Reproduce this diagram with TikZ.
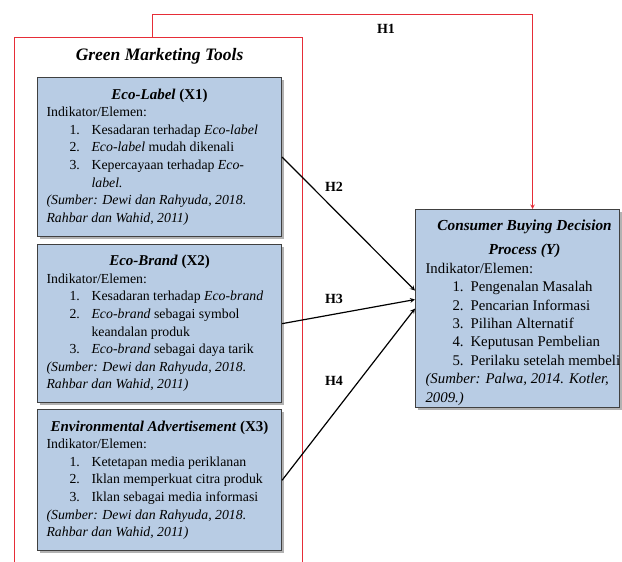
\documentclass[tikz,border=0pt]{standalone}
\usepackage{fontspec}
\setmainfont{Liberation Serif}
\usepackage{tikz}
\usetikzlibrary{positioning, shadows, calc}

\definecolor{boxblue}{RGB}{184,204,228}
\definecolor{boxframe}{RGB}{64,64,64}
\definecolor{linered}{RGB}{230,45,55}
\setlength{\parindent}{0pt}

% numbered line with hanging indent
\newcommand{\itm}[3][23pt]{\par\hangindent=45pt\hangafter=1\noindent
  \hspace*{#1}\makebox[\dimexpr45pt-#1\relax][l]{#2}#3}

\begin{document}
\begin{tikzpicture}
        [
            x=1pt, y=-1pt,
            var/.style={rectangle, draw=boxframe, line width=1.1pt, fill=boxblue,
                        drop shadow={shadow xshift=2pt, shadow yshift=-2pt,
                                     fill=black!60, opacity=.5},
                        inner xsep=9pt, inner ysep=3pt, text width=226pt,
                        align=flush left,
                        font=\fontsize{13.8}{17.6}\selectfont},
            hyp/.style={font=\fontsize{14}{16}\selectfont\bfseries, inner sep=0pt},
            redline/.style={draw=linered, line width=1pt}
        ]
        \useasboundingbox (0,0) rectangle (622,562);
        \node (x1) [var, minimum height=159pt, anchor=north west] at (37,77)
            {{\centering\fontsize{15}{18}\selectfont\bfseries\textit{Eco-Label} (X1)\par}
             Indikator/Elemen:
             \itm{1.}{Kesadaran terhadap \textit{Eco-label}}
             \itm{2.}{\textit{Eco-label} mudah dikenali}
             \itm{3.}{Kepercayaan terhadap \textit{Eco-}\newline\textit{label.}}
             \par\textit{(Sumber: Dewi dan Rahyuda, 2018.\newline Rahbar dan Wahid, 2011)}};
        \node (x2) [var, minimum height=158pt, below=7pt of x1]
            {{\centering\fontsize{15}{18}\selectfont\bfseries\textit{Eco-Brand} (X2)\par}
             Indikator/Elemen:
             \itm{1.}{Kesadaran terhadap \textit{Eco-brand}}
             \itm{2.}{\textit{Eco-brand} sebagai symbol\newline keandalan produk}
             \itm{3.}{\textit{Eco-brand} sebagai daya tarik}
             \par\textit{(Sumber: Dewi dan Rahyuda, 2018.\newline Rahbar dan Wahid, 2011)}};
        \node (x3) [var, minimum height=141pt, below=6pt of x2]
            {{\centering\fontsize{15}{18}\selectfont\bfseries\textit{Environmental Advertisement} (X3)\par}
             Indikator/Elemen:
             \itm{1.}{Ketetapan media periklanan}
             \itm{2.}{Iklan memperkuat citra produk}
             \itm{3.}{Iklan sebagai media informasi}
             \par\textit{(Sumber: Dewi dan Rahyuda, 2018.\newline Rahbar dan Wahid, 2011)}};
        \node (gmt) [above=13pt of x1, inner sep=0pt,
                     font=\fontsize{17.5}{20}\selectfont\bfseries\itshape]
            {Green Marketing Tools};
        \node (y) [var, text width=198pt, inner xsep=3pt, inner ysep=0pt, minimum height=198pt,
                   anchor=north west, font=\fontsize{14.8}{18.4}\selectfont] at (415,209)
            {{\centering\advance\leftskip 14pt\fontsize{15.3}{24}\selectfont\bfseries\itshape
              \rule{0pt}{19pt}Consumer Buying Decision\\Process (Y)\par}
             \leftskip=7pt
             Indikator/Elemen:
             \itm[27pt]{1.}{Pengenalan Masalah}
             \itm[27pt]{2.}{Pencarian Informasi}
             \itm[27pt]{3.}{Pilihan Alternatif}
             \itm[27pt]{4.}{Keputusan Pembelian}
             \itm[27pt]{5.}{\mbox{Perilaku setelah membeli}}
             \par\textit{(Sumber: Palwa, 2014. Kotler,\newline 2009.)}\par};
        % red frame round the three tools
        \draw [redline] (14,562) |- (302,37) -- (302,562);
        \coordinate (h1) at (152,37);
        \draw [redline, ->, >=stealth] (h1) -- ++(0,-23) -| ([xshift=15pt]y.north);
        \foreach \i/\j in {x1/18pt, x2/9pt, x3/0pt}
            \draw [->, >=stealth, line width=1.2pt] (\i.east) -- ([yshift=\j]y.west);
        \node (h1lab) [hyp] at (386,28.5) {H1};
        \node (h2lab) [hyp] at (334,187) {H2};
        \node (h3lab) [hyp] at (334,298.5) {H3};
        \node (h4lab) [hyp] at (334,380.5) {H4};
    \end{tikzpicture}
\end{document}
